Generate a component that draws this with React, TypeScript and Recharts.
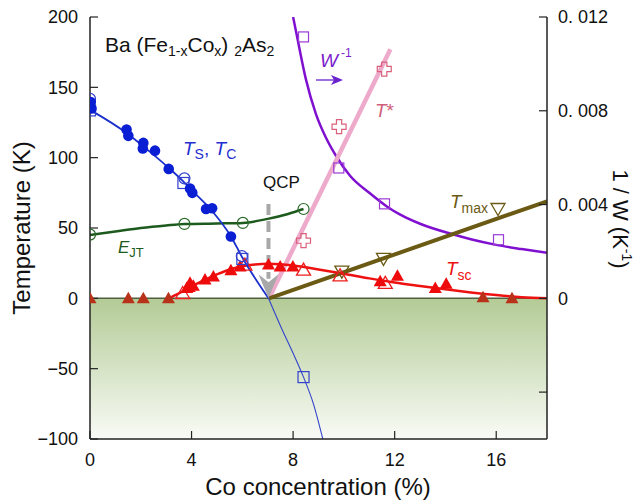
import React from 'react'
import {
  ComposedChart,
  Line,
  Scatter,
  XAxis,
  YAxis,
  ReferenceArea,
  ReferenceLine,
  Customized,
} from 'recharts'

const sans = "'Liberation Sans', Arial, sans-serif"
const narrow = "'Liberation Sans Narrow', 'Liberation Sans', Arial, sans-serif"

const xTicks = [0, 4, 8, 12, 16]
const tTicks = [-100, -50, 0, 50, 100, 150, 200]
const wTicks = [-0.004, 0, 0.004, 0.008, 0.012]

// T_S, T_C
const tsFilled = [
  { x: 0.03, t: 139.6 }, { x: 0.06, t: 135 }, { x: 1.44, t: 120 }, { x: 1.51, t: 115.5 },
  { x: 2.1, t: 110.5 }, { x: 2.08, t: 106.5 }, { x: 2.56, t: 105 }, { x: 3.1, t: 92 },
  { x: 3.94, t: 78 }, { x: 4.03, t: 75 }, { x: 4.57, t: 63.5 }, { x: 4.81, t: 64 },
  { x: 5.55, t: 44 },
]
const tsCircle = [{ x: 0, t: 141.8 }, { x: 3.72, t: 85.3 }, { x: 5.98, t: 30 }]
const tsSquare = [{ x: 0, t: 133.6 }, { x: 3.68, t: 82 }, { x: 6.0, t: 28 }, { x: 8.41, t: -56 }]
const tsLine = [
  { x: 0, t: 134 }, { x: 1.44, t: 117.5 }, { x: 2.1, t: 108 }, { x: 3.02, t: 94 },
  { x: 3.68, t: 83 }, { x: 4.0, t: 77 }, { x: 4.86, t: 61 }, { x: 5.55, t: 44 },
  { x: 6.0, t: 29 }, { x: 7.03, t: 0 },
]
const tcLine = [
  { x: 7.03, t: 0 }, { x: 7.56, t: -22 }, { x: 8.0, t: -39 }, { x: 8.41, t: -56 },
  { x: 8.8, t: -75 }, { x: 9.17, t: -100 },
]

// E_JT
const ejtPts = [{ x: 0, t: 45.3 }, { x: 3.72, t: 52.9 }, { x: 6.02, t: 53.6 }, { x: 8.41, t: 63.5 }]
const ejtLine = [
  { x: 0, t: 45 }, { x: 1, t: 47.5 }, { x: 2, t: 50 }, { x: 3, t: 51.8 }, { x: 3.72, t: 52.8 },
  { x: 5, t: 53.2 }, { x: 6.02, t: 53.6 }, { x: 7, t: 56.5 }, { x: 7.8, t: 60 }, { x: 8.41, t: 63.5 },
]

// T_sc
const tscFilled = [
  { x: 0, t: 0 }, { x: 1.51, t: 0 }, { x: 2.1, t: 0 }, { x: 3.09, t: 0 }, { x: 3.81, t: 7.4 },
  { x: 3.91, t: 8 }, { x: 3.94, t: 11 }, { x: 4.07, t: 9 }, { x: 4.53, t: 13.3 }, { x: 4.86, t: 15.6 },
  { x: 5.55, t: 20 }, { x: 5.91, t: 22.7 }, { x: 7.03, t: 24 }, { x: 7.49, t: 22.7 }, { x: 7.99, t: 22.7 },
  { x: 11.43, t: 12.1 }, { x: 12.11, t: 16.1 }, { x: 13.6, t: 7.4 }, { x: 14.03, t: 10.4 },
  { x: 15.48, t: 0.8 }, { x: 16.62, t: 0 },
]
const tscOpen = [{ x: 3.65, t: 3.8 }, { x: 6.1, t: 24 }, { x: 8.41, t: 20.4 }, { x: 9.85, t: 16.3 }, { x: 11.63, t: 11 }]
const tscLine = [
  { x: 3.1, t: 0 }, { x: 3.5, t: 3.5 }, { x: 4, t: 8.5 }, { x: 4.5, t: 13 }, { x: 5, t: 17 },
  { x: 5.5, t: 20.5 }, { x: 6, t: 22.8 }, { x: 6.5, t: 24 }, { x: 7, t: 24.5 }, { x: 7.5, t: 24.2 },
  { x: 8, t: 23.3 }, { x: 9, t: 20.5 }, { x: 10, t: 17.5 }, { x: 11, t: 14.2 }, { x: 12, t: 11.3 },
  { x: 13, t: 8.8 }, { x: 14, t: 6.4 }, { x: 15, t: 4.2 }, { x: 16, t: 2.3 }, { x: 17, t: 0.8 }, { x: 18, t: 0 },
]

// T_max, T*
const tmaxPts = [{ x: 9.92, t: 19 }, { x: 11.56, t: 28 }, { x: 16.07, t: 63.5 }]
const tmaxLine = [{ x: 7.05, t: 0 }, { x: 18, t: 69 }]
const tstarPts = [{ x: 8.41, t: 41 }, { x: 9.81, t: 122 }, { x: 11.59, t: 163 }]
const tstarLine = [{ x: 7.05, t: 0 }, { x: 11.83, t: 177 }]

// 1/W (right axis)
const wPts = [{ x: 8.41, t: 0.01115 }, { x: 9.8, t: 0.00556 }, { x: 11.6, t: 0.00403 }, { x: 16.09, t: 0.0025 }]
const wLine = [
  { x: 8.0, t: 0.012 }, { x: 8.2, t: 0.01092 }, { x: 8.5, t: 0.00936 }, { x: 8.9, t: 0.00786 },
  { x: 9.3, t: 0.00684 }, { x: 9.7, t: 0.00606 }, { x: 10.25, t: 0.00522 }, { x: 11, t: 0.0045 },
  { x: 11.69, t: 0.00392 }, { x: 12.22, t: 0.00357 }, { x: 13, t: 0.00318 }, { x: 14.32, t: 0.00272 },
  { x: 15, t: 0.00252 }, { x: 16, t: 0.00228 }, { x: 17, t: 0.0021 }, { x: 18, t: 0.00194 },
]

// QCP arrow
const qcpShaft = [{ x: 7.03, t: 67 }, { x: 7.03, t: 14 }]
const qcpTip = [{ x: 7.03, t: 0 }]

const dotFilled = (p: any) => <circle cx={p.cx} cy={p.cy} r={5.3} fill="#0a1ed4" />
const dotOpen = (p: any) => <circle cx={p.cx} cy={p.cy} r={5.5} fill="none" stroke="#3341cf" strokeWidth={1.2} />
const squareBlue = (p: any) => (
  <rect x={p.cx - 5.5} y={p.cy - 5.5} width={11} height={11} fill="none" stroke="#3341cf" strokeWidth={1.2} />
)
const triFilled = (p: any) => (
  <polygon
    points={`${p.cx},${p.cy - 6.5} ${p.cx - 6.5},${p.cy + 5} ${p.cx + 6.5},${p.cy + 5}`}
    fill={p.payload && p.payload.t < 2 ? '#b8321a' : '#ee0b0b'}
  />
)
const triOpen = (p: any) => (
  <polygon
    points={`${p.cx},${p.cy - 6.5} ${p.cx - 7},${p.cy + 5.5} ${p.cx + 7},${p.cy + 5.5}`}
    fill="none" stroke="#ee1c1c" strokeWidth={1.3}
  />
)
const triDown = (p: any) => (
  <polygon
    points={`${p.cx - 7},${p.cy - 5.5} ${p.cx + 7},${p.cy - 5.5} ${p.cx},${p.cy + 6.5}`}
    fill="none" stroke="#6b5a14" strokeWidth={1.3}
  />
)
const plusOpen = (p: any) => {
  const a = 2.6
  const b = 7
  const { cx, cy } = p
  const d = `M${cx - a},${cy - b} H${cx + a} V${cy - a} H${cx + b} V${cy + a} H${cx + a} V${cy + b} H${cx - a} V${cy + a} H${cx - b} V${cy - a} H${cx - a} Z`
  return <path d={d} fill="none" stroke="#d9607c" strokeWidth={1.2} />
}
const squarePurple = (p: any) => (
  <rect x={p.cx - 5} y={p.cy - 5} width={10} height={10} fill="none" stroke="#9a3ad6" strokeWidth={1.2} />
)
const arrowTip = (p: any) => (
  <polygon points={`${p.cx - 10},${p.cy - 24} ${p.cx},${p.cy - 16} ${p.cx + 10},${p.cy - 24} ${p.cx},${p.cy}`} fill="#a8a8a8" />
)

function Notes() {
  return (
    <g fontFamily={sans}>
      <text x={105} y={52} fontSize={21} fill="#111">
        Ba (Fe<tspan fontSize={14} dy={4}>1-x</tspan>
        <tspan dy={-4}>Co</tspan>
        <tspan fontSize={14} dy={4}>x</tspan>
        <tspan dy={-4}>) </tspan>
        <tspan fontSize={14} dy={4}>2</tspan>
        <tspan dy={-4}>As</tspan>
        <tspan fontSize={14} dy={4}>2</tspan>
      </text>
      <text x={183} y={155} fontSize={19} fill="#1f2fd0">
        <tspan fontStyle="italic">T</tspan>
        <tspan fontSize={14} dy={4}>S</tspan>
        <tspan dy={-4}>, </tspan>
        <tspan fontStyle="italic">T</tspan>
        <tspan fontSize={14} dy={4}>C</tspan>
      </text>
      <text x={263} y={188} fontSize={17} fill="#111">QCP</text>
      <text x={118} y={253} fontSize={17} fill="#1d5a1d">
        <tspan fontStyle="italic">E</tspan>
        <tspan fontSize={13} dy={4}>JT</tspan>
      </text>
      <text x={320} y={67} fontSize={19} fill="#7a22cc">
        <tspan fontStyle="italic">W</tspan>
        <tspan fontSize={12} dy={-10} dx={3}>-1</tspan>
      </text>
      <line x1={316} y1={80} x2={334} y2={80} stroke="#6a22cc" strokeWidth={1.3} />
      <polygon points="343,80 331,75 334,80 331,85" fill="#6a22cc" />
      <text x={375} y={117} fontSize={19} fill="#d0607a">
        <tspan fontStyle="italic">T</tspan>*
      </text>
      <text x={450} y={208} fontSize={19} fill="#6b5a14">
        <tspan fontStyle="italic">T</tspan>
        <tspan fontSize={14} dy={5}>max</tspan>
      </text>
      <text x={446} y={275} fontSize={19} fill="#ee1111">
        <tspan fontStyle="italic">T</tspan>
        <tspan fontSize={14} dy={5}>sc</tspan>
      </text>
      <text x={300} y={357} fontSize={18} fill="#3040c0">
        <tspan fontStyle="italic">T</tspan>
        <tspan fontSize={14} dy={4}>C</tspan>
      </text>
      <text x={30} y={228} fontSize={24} fill="#111" textAnchor="middle" transform="rotate(-90 30 228)">
        Temperature (K)
      </text>
      <text x={318} y={495} fontSize={24} fill="#111" textAnchor="middle">
        Co concentration (%)
      </text>
      <text x={613} y={219} fontSize={22} fill="#111" textAnchor="middle" transform="rotate(90 613 219)">
        1 / W (K<tspan fontSize={14} dy={-9}>-1</tspan>
        <tspan dy={9}>)</tspan>
      </text>
    </g>
  )
}

const fmtT = (v: number) => (v < 0 ? '\u2212' + Math.abs(v) : String(v))
const fmtW = (v: number) => {
  if (v < 0) return ''
  if (v === 0) return '0'
  return v.toFixed(3).replace('.', '. ')
}

const axisLine = { stroke: '#222', strokeWidth: 1.5 }
const tickLine = { stroke: '#222', strokeWidth: 1.2 }
const tickFont = { fontSize: 18, fill: '#111', fontFamily: narrow }

export default function App() {
  return (
    <div style={{ position: 'absolute', left: 0, top: 0, width: 641, height: 501, background: '#fff' }}>
      <ComposedChart width={641} height={501} margin={{ top: 17, right: 0, bottom: 0, left: 0 }}>
        <defs>
          <linearGradient id="band" x1="0" y1="0" x2="0" y2="1">
            <stop offset="0%" stopColor="#b3cb96" />
            <stop offset="100%" stopColor="#f9fbf6" />
          </linearGradient>
        </defs>
        <XAxis
          type="number"
          dataKey="x"
          domain={[0, 18]}
          ticks={xTicks}
          allowDataOverflow
          height={62}
          axisLine={axisLine}
          tickLine={tickLine}
          tickSize={-8}
          tickMargin={22}
          tick={tickFont}
        />
        <XAxis
          xAxisId="top"
          orientation="top"
          type="number"
          dataKey="x"
          domain={[0, 18]}
          ticks={xTicks}
          allowDataOverflow
          height={0}
          axisLine={axisLine}
          tickLine={tickLine}
          tickSize={-8}
          tick={() => <g />}
        />
        <YAxis
          type="number"
          domain={[-100, 200]}
          ticks={tTicks}
          allowDataOverflow
          width={90}
          axisLine={axisLine}
          tickLine={tickLine}
          tickSize={-8}
          tickMargin={20}
          tickFormatter={fmtT}
          tick={tickFont}
        />
        <YAxis
          yAxisId="r"
          orientation="right"
          type="number"
          domain={[-0.006, 0.012]}
          ticks={wTicks}
          allowDataOverflow
          width={94}
          axisLine={axisLine}
          tickLine={tickLine}
          tickSize={-8}
          tickMargin={19}
          tickFormatter={fmtW}
          tick={tickFont}
        />
        <ReferenceArea x1={0} x2={18} y1={-100} y2={0} fill="url(#band)" fillOpacity={1} stroke="none" />
        <ReferenceLine y={0} stroke="#4f6040" strokeWidth={1.5} />

        <Line data={wLine} dataKey="t" yAxisId="r" type="monotone" stroke="#8010d0" strokeWidth={2.5} dot={false} isAnimationActive={false} />
        <Line data={tstarLine} dataKey="t" type="linear" stroke="#eeaacb" strokeWidth={4.5} dot={false} isAnimationActive={false} />
        <Line data={tmaxLine} dataKey="t" type="linear" stroke="#6b5a14" strokeWidth={4} dot={false} isAnimationActive={false} />
        <Line data={qcpShaft} dataKey="t" type="linear" stroke="#a8a8a8" strokeWidth={4} strokeDasharray="11 6" dot={false} isAnimationActive={false} />
        <Scatter data={qcpTip} dataKey="t" shape={arrowTip} isAnimationActive={false} />
        <Line data={ejtLine} dataKey="t" type="monotone" stroke="#1d5a1d" strokeWidth={2.5} dot={false} isAnimationActive={false} />
        <Line data={tscLine} dataKey="t" type="monotone" stroke="#ee1111" strokeWidth={2.5} dot={false} isAnimationActive={false} />
        <Line data={tsLine} dataKey="t" type="monotone" stroke="#1a2fcc" strokeWidth={1.8} dot={false} isAnimationActive={false} />
        <Line data={tcLine} dataKey="t" type="monotone" stroke="#3344cc" strokeWidth={1.1} dot={false} isAnimationActive={false} />

        <Scatter data={wPts} dataKey="t" yAxisId="r" shape={squarePurple} isAnimationActive={false} />
        <Scatter data={tstarPts} dataKey="t" shape={plusOpen} isAnimationActive={false} />
        <Scatter data={tmaxPts} dataKey="t" shape={triDown} isAnimationActive={false} />
        <Scatter data={ejtPts} dataKey="t" shape={(p: any) => <circle cx={p.cx} cy={p.cy} r={5.5} fill="none" stroke="#2a6a2a" strokeWidth={1.2} />} isAnimationActive={false} />
        <Scatter data={tscOpen} dataKey="t" shape={triOpen} isAnimationActive={false} />
        <Scatter data={tscFilled} dataKey="t" shape={triFilled} isAnimationActive={false} />
        <Scatter data={tsSquare} dataKey="t" shape={squareBlue} isAnimationActive={false} />
        <Scatter data={tsCircle} dataKey="t" shape={dotOpen} isAnimationActive={false} />
        <Scatter data={tsFilled} dataKey="t" shape={dotFilled} isAnimationActive={false} />
        <Customized component={Notes} />
      </ComposedChart>
    </div>
  )
}
